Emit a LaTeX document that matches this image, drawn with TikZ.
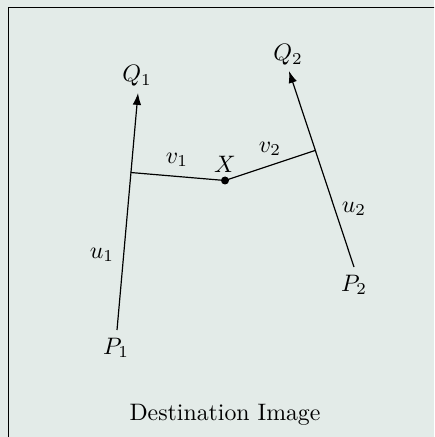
\documentclass[tikz,border=0pt]{standalone}
\usetikzlibrary{arrows.meta}
\definecolor{bgpanel}{RGB}{227,235,232}
\begin{document}
\begin{tikzpicture}[
    x=0.42pt, y=-0.42pt,
    % Vectors with arrow heads
    vec/.style={draw, line width=0.5pt, -{Latex[length=5pt,width=3.6pt]}},
    % Plain segments
    seg/.style={draw, line width=0.5pt},
    lbl/.style={inner sep=1pt}
]

% ---- PANEL ----
\clip (0,0) rectangle (434,437);
\fill[bgpanel] (0,0) rectangle (434,437);
\draw[thin] (8.5,7.5) rectangle (450,450);

% ---- POINTS ----
\coordinate (p1) at (117,330);
\coordinate (q1) at (138,93);
\coordinate (j1) at (130.6,172.5);
\coordinate (p2) at (354,267);
\coordinate (q2) at (289,71);
\coordinate (j2) at (315,150.5);
\coordinate (x)  at (225,180.5);

% ---- VECTORS ----
\draw[vec] (p1) -- (q1);
\draw[vec] (p2) -- (q2);
\draw[seg] (j1) -- (x) -- (j2);
\fill (x) circle (4);

% ---- LABELS ----
\node[lbl] (lq1) at (137,76)  {$Q_1$};
\node[lbl] (lp1) at (116,348) {$P_1$};
\node[lbl] (lu1) at (102,255) {$u_1$};
\node[lbl] (lv1) at (177,160) {$v_1$};
\node[lbl] (lx)  at (225,164) {$X$};
\node[lbl] (lv2) at (270,149) {$v_2$};
\node[lbl] (lq2) at (288,55)  {$Q_2$};
\node[lbl] (lu2) at (354,209) {$u_2$};
\node[lbl] (lp2) at (354,285) {$P_2$};

\node (title) at (225,415) {Destination Image};

\end{tikzpicture}
\end{document}
